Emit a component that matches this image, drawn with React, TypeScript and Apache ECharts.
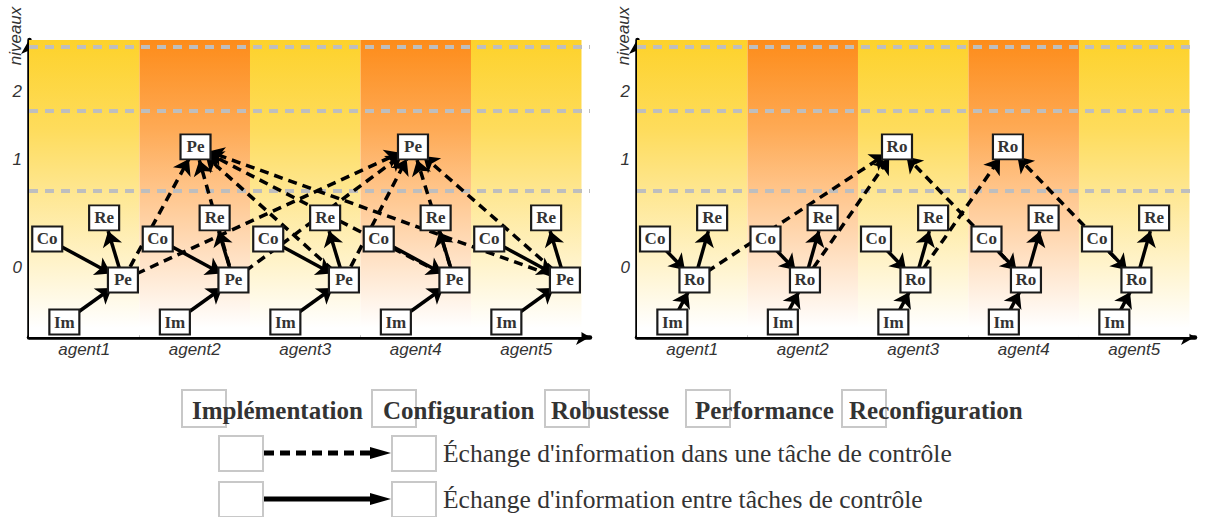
import { useEffect, useRef } from 'react';
import * as echarts from 'echarts';

// ---------- data ----------
const agents = ['agent1', 'agent2', 'agent3', 'agent4', 'agent5'];
const agentCenters = [0.5, 1.5, 2.5, 3.5, 4.5];
const bandStarts = [0, 1, 2, 3, 4];
const bandShades = [0, 1, 0, 1, 0]; // 0 = yellow, 1 = orange
const levelLabels = ['0', '1', '2'];
const levelLabelValues = [23.4, 59.9, 82.5];
const levelBoundaries = [49.2, 76.1, 97.6];

// left diagram: tasks of each agent (offset inside the agent column, height)
const leftTasks = ['Co', 'Re', 'Pe', 'Im'];
const leftOffsets = [0.165, 0.68, 0.85, 0.32];
const taskHeights = [33.0, 40.1, 19.2, 5.05];
const leftTopX = [1.507, 3.475];
const topHeight = 64.0;
const leftTopTargets = [[0, 1], [0, 1], [0, 1], [0, 1], [0, 1]];

// right diagram
const rightTasks = ['Co', 'Re', 'Ro', 'Im'];
const rightOffsets = [0.163, 0.68, 0.52, 0.32];
const rightTopX = [2.353, 3.357];
const rightTopTargets = [[0], [0], [1], [0], [1]];

const legendTasks = ['Implémentation', 'Configuration', 'Robustesse', 'Performance', 'Reconfiguration'];
const legendExchanges = [
  "Échange d'information dans une tâche de contrôle",
  "Échange d'information entre tâches de contrôle",
];

// ---------- helpers ----------
const yellow = () =>
  new echarts.graphic.LinearGradient(0, 0, 0, 1, [
    { offset: 0, color: '#FDD22B' },
    { offset: 0.3, color: '#FEDC5C' },
    { offset: 0.5, color: '#FEE68E' },
    { offset: 0.75, color: '#FFF3CA' },
    { offset: 0.97, color: '#FFFFFF' },
    { offset: 1, color: '#FFFFFF' },
  ]);
const orange = () =>
  new echarts.graphic.LinearGradient(0, 0, 0, 1, [
    { offset: 0, color: '#FD8C1A' },
    { offset: 0.3, color: '#FEAA55' },
    { offset: 0.5, color: '#FFC489' },
    { offset: 0.75, color: '#FFE3C8' },
    { offset: 0.97, color: '#FFFFFF' },
    { offset: 1, color: '#FFFFFF' },
  ]);

function buildGraph(tasks: string[], offsets: number[], topX: number[], central: string, topTargets: number[][]) {
  const nodes: any[] = [];
  const links: any[] = [];
  agents.forEach((_, a) => {
    tasks.forEach((t, k) => {
      nodes.push({ name: t + a, task: t, value: [bandStarts[a] + offsets[k], taskHeights[k]] });
    });
  });
  topX.forEach((x, k) => {
    nodes.push({ name: central + 'top' + k, task: central, value: [x, topHeight] });
  });
  const solid = [['Co', central], [central, 'Re'], ['Im', central]];
  agents.forEach((_, a) => {
    solid.forEach(([s, t]) => {
      links.push({ source: s + a, target: t + a, lineStyle: { type: 'solid' } });
    });
  });
  topTargets.forEach((targets, a) => {
    targets.forEach((k) => {
      links.push({ source: central + a, target: central + 'top' + k, lineStyle: { type: [9, 6] } });
    });
  });
  return { nodes, links };
}

const FONT_SANS = '"Liberation Sans", Arial, sans-serif';
const FONT_SERIF = '"Liberation Serif", "Times New Roman", serif';

function axesFor(gridIndex: number, xMax: number) {
  const x = {
    type: 'value',
    gridIndex,
    min: 0,
    max: xMax,
    axisLine: { show: true, onZero: false, lineStyle: { color: '#000', width: 4.5 }, symbol: ['none', 'arrow'], symbolSize: [12, 14] },
    axisTick: { show: false },
    splitLine: { show: false },
    axisLabel: {
      customValues: agentCenters,
      formatter: (v: number) => agents[Math.round(v - 0.5)] ?? '',
      fontFamily: FONT_SANS,
      fontStyle: 'italic',
      fontSize: 17,
      color: '#333',
      margin: 4,
    },
  };
  const y = {
    type: 'value',
    gridIndex,
    min: 0,
    max: 100,
    axisLine: { show: true, onZero: false, lineStyle: { color: '#000', width: 4.5 }, symbol: ['none', 'arrow'], symbolSize: [12, 14] },
    axisTick: { show: false },
    splitLine: { show: false },
    axisLabel: {
      customValues: levelLabelValues,
      formatter: (v: number) => {
        const i = levelLabelValues.indexOf(v);
        return i >= 0 ? levelLabels[i] : '';
      },
      fontFamily: FONT_SANS,
      fontStyle: 'italic',
      fontSize: 17,
      color: '#333',
      margin: 7,
    },
  };
  return { x, y };
}

function bandSeries(gridIndex: number) {
  return {
    type: 'custom',
    coordinateSystem: 'cartesian2d',
    xAxisIndex: gridIndex,
    yAxisIndex: gridIndex,
    silent: true,
    z: 1,
    data: bandStarts.map((s, i) => [s, s + 1, bandShades[i]]),
    renderItem: (_p: any, api: any) => {
      const p0 = api.coord([api.value(0), 100]);
      const p1 = api.coord([api.value(1), 0]);
      return {
        type: 'rect',
        shape: { x: p0[0], y: p0[1], width: p1[0] - p0[0], height: p1[1] - p0[1] },
        style: { fill: api.value(2) === 1 ? orange() : yellow() },
      };
    },
    markLine: {
      silent: true,
      symbol: ['none', 'none'],
      label: { show: false },
      lineStyle: { color: '#BEBEBE', width: 4, type: [9, 7] },
      data: levelBoundaries.map((v) => ({ yAxis: v })),
    },
  };
}

function graphSeries(gridIndex: number, g: { nodes: any[]; links: any[] }) {
  return {
    type: 'graph',
    coordinateSystem: 'cartesian2d',
    xAxisIndex: gridIndex,
    yAxisIndex: gridIndex,
    layout: 'none',
    silent: true,
    z: 10,
    symbol: 'rect',
    symbolSize: [30, 25],
    itemStyle: { color: '#fff', borderColor: '#1a1a1a', borderWidth: 2 },
    label: {
      show: true,
      position: 'inside',
      formatter: (p: any) => p.data.task,
      fontFamily: FONT_SERIF,
      fontWeight: 'bold',
      fontSize: 17,
      color: '#333',
    },
    edgeSymbol: ['none', 'arrow'],
    edgeSymbolSize: [0, 15],
    lineStyle: { color: '#000', width: 3.5, opacity: 1, curveness: 0 },
    emphasis: { disabled: true },
    data: g.nodes,
    links: g.links,
  };
}

function legendGraphics() {
  const els: any[] = [];
  const boxX = [182, 372, 545, 686, 842];
  const textX = [192, 383, 551, 695, 849];
  legendTasks.forEach((t, i) => {
    els.push({ type: 'rect', shape: { x: boxX[i], y: 390, width: 44, height: 37 }, style: { fill: 'none', stroke: '#C8C8C8', lineWidth: 2 } });
    els.push({ type: 'text', x: textX[i], y: 410, style: { text: t, font: 'bold 25px ' + FONT_SERIF, fill: '#333', align: 'left', verticalAlign: 'middle' } });
  });
  const rows = [453, 499];
  legendExchanges.forEach((t, i) => {
    const cy = rows[i];
    els.push({ type: 'rect', shape: { x: 219, y: cy - 17, width: 44, height: 35 }, style: { fill: 'none', stroke: '#C8C8C8', lineWidth: 2 } });
    els.push({ type: 'rect', shape: { x: 392, y: cy - 17, width: 44, height: 35 }, style: { fill: 'none', stroke: '#C8C8C8', lineWidth: 2 } });
    els.push({ type: 'line', shape: { x1: 264, y1: cy, x2: 372, y2: cy }, style: { stroke: '#000', lineWidth: 5, lineDash: i === 0 ? [10, 6] : null } });
    els.push({ type: 'polygon', shape: { points: [[370, cy - 6], [391, cy], [370, cy + 6]] }, style: { fill: '#000' } });
    els.push({ type: 'text', x: 443, y: cy, style: { text: t, font: '25.5px ' + FONT_SERIF, fill: '#333', align: 'left', verticalAlign: 'middle' } });
  });
  // y-axis names
  [15, 623].forEach((x) => {
    els.push({ type: 'text', x, y: 36, rotation: Math.PI / 2, style: { text: 'niveaux', font: 'italic 17px ' + FONT_SANS, fill: '#333', align: 'center', verticalAlign: 'middle' } });
  });
  return els;
}

export default function App() {
  const ref = useRef<HTMLDivElement>(null);
  useEffect(() => {
    if (!ref.current) return;
    const chart = echarts.init(ref.current, undefined, { renderer: 'svg' });
    const a0 = axesFor(0, 5.077);
    const a1 = axesFor(1, 5.05);
    const gLeft = buildGraph(leftTasks, leftOffsets, leftTopX, 'Pe', leftTopTargets);
    const gRight = buildGraph(rightTasks, rightOffsets, rightTopX, 'Ro', rightTopTargets);
    chart.setOption({
      animation: false,
      backgroundColor: '#fff',
      grid: [
        { left: 29, top: 40, width: 561, height: 297 },
        { left: 637, top: 40, width: 558, height: 297 },
      ],
      xAxis: [a0.x, a1.x],
      yAxis: [a0.y, a1.y],
      series: [bandSeries(0), bandSeries(1), graphSeries(0, gLeft), graphSeries(1, gRight)],
      graphic: legendGraphics(),
    });
    return () => chart.dispose();
  }, []);
  return <div ref={ref} style={{ position: 'absolute', left: 0, top: 0, width: 1208, height: 517 }} />;
}
